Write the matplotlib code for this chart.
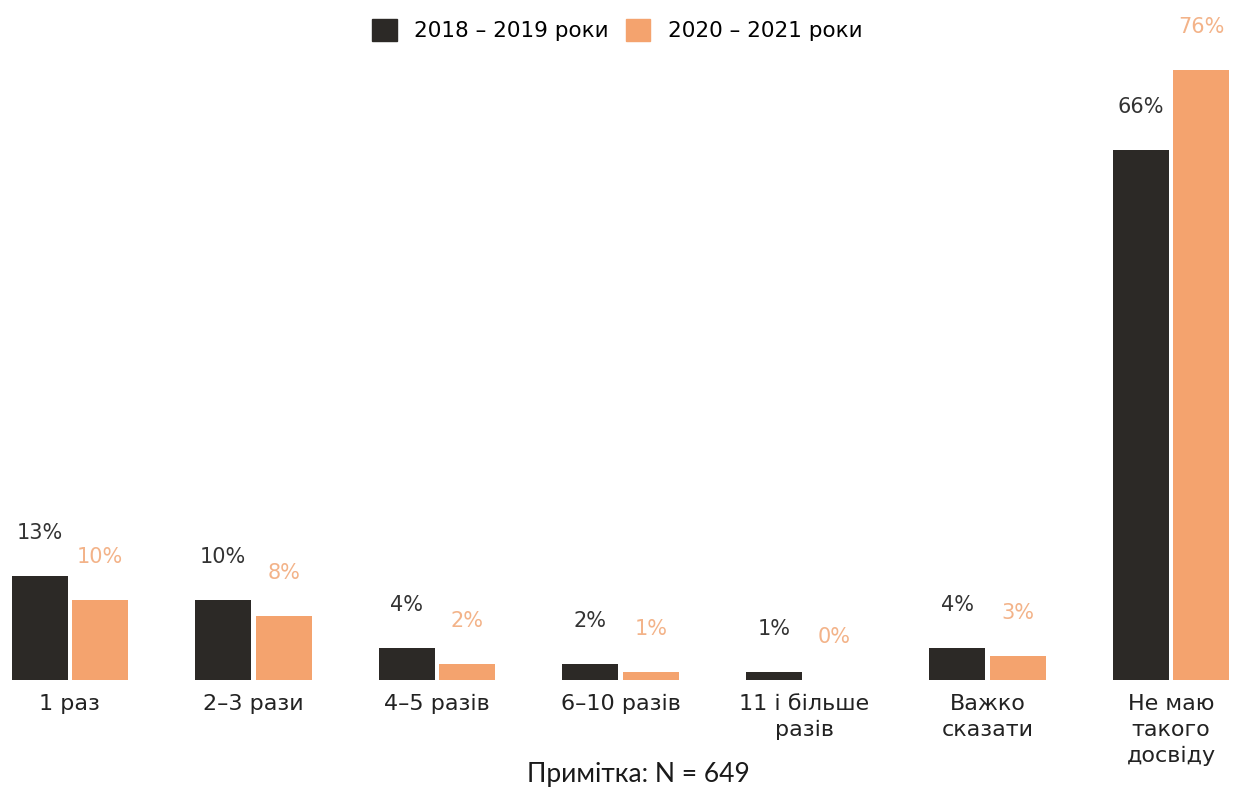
import matplotlib
matplotlib.use("Agg")
import matplotlib.pyplot as plt
from matplotlib.patches import Patch
import numpy as np

categories = ["1 раз", "2–3 рази", "4–5 разів", "6–10 разів", "11 і більше\nразів",
              "Важко\nсказати", "Не маю\nтакого\nдосвіду"]
series_names = ["2018 – 2019 роки", "2020 – 2021 роки"]
values_2018 = [13, 10, 4, 2, 1, 4, 66]
values_2020 = [10, 8, 2, 1, 0, 3, 76]
note_text = "Примітка: N = 649"

dark = "#2c2926"
orange = "#f4a36e"
dark_text = "#333333"
orange_text = "#f3b389"

plt.rcParams["font.family"] = ["DejaVu Sans"]

fig = plt.figure(figsize=(12.34, 7.94), dpi=100)
ax = fig.add_axes([0, 0, 1, 1])
ax.set_xlim(-0.381, 6.343)
ax.set_ylim(-14.2, 84.7)
ax.axis("off")

x = np.arange(len(categories))
w = 0.305
off = 0.165

ax.bar(x - off, values_2018, width=w, color=dark, linewidth=0)
ax.bar(x + off, values_2020, width=w, color=orange, linewidth=0)

for xi, v in zip(x - off, values_2018):
    ax.annotate(f"{v}%", (xi, v), xytext=(0, 31), textcoords="offset points",
                ha="center", va="center", fontsize=15, color=dark_text)
for xi, v in zip(x + off, values_2020):
    ax.annotate(f"{v}%", (xi, v), xytext=(0, 31), textcoords="offset points",
                ha="center", va="center", fontsize=15, color=orange_text)

for xi, lab in zip(x, categories):
    ax.text(xi, -1.7, lab, ha="center", va="top", fontsize=16, color="#222222",
            linespacing=1.38)

ax.legend(handles=[Patch(color=dark), Patch(color=orange)], labels=series_names,
          loc="upper center", bbox_to_anchor=(0.5, 1.0), ncol=2, frameon=False,
          fontsize=15.5, handlelength=1.15, handleheight=1.15, columnspacing=0.8,
          handletextpad=0.8, borderaxespad=0.5)

fig.text(0.517, 0.024, note_text, ha="center", va="center", fontsize=19,
         family=["Lato", "DejaVu Sans"], color="#1a1a1a")

fig.savefig("out.png", dpi=100, facecolor="white")
